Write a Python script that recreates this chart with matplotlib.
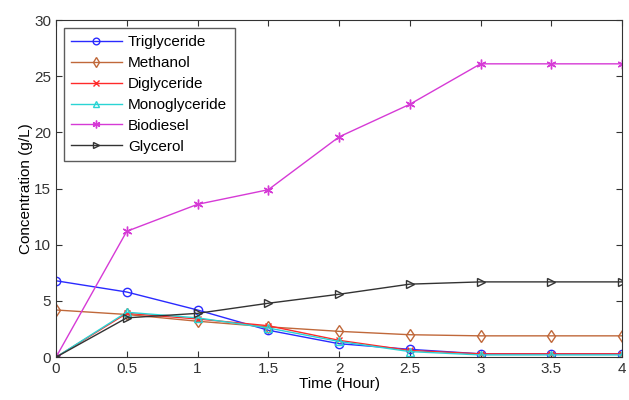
import matplotlib
matplotlib.use('agg')
import matplotlib.pyplot as plt

plt.rcParams['font.family'] = ['Liberation Sans', 'DejaVu Sans']

# time points (hours) and concentrations (g/L)
time = [0, 0.5, 1, 1.5, 2, 2.5, 3, 3.5, 4]
triglyceride = [6.8, 5.8, 4.2, 2.4, 1.2, 0.7, 0.3, 0.3, 0.3]
methanol = [4.2, 3.8, 3.2, 2.7, 2.3, 2.0, 1.9, 1.9, 1.9]
diglyceride = [0, 3.9, 3.4, 2.8, 1.5, 0.6, 0.3, 0.3, 0.3]
monoglyceride = [0, 4.0, 3.5, 2.6, 1.4, 0.5, 0.2, 0.2, 0.2]
biodiesel = [0, 11.2, 13.6, 14.9, 19.6, 22.5, 26.1, 26.1, 26.1]
glycerol = [0, 3.5, 3.9, 4.8, 5.6, 6.5, 6.7, 6.7, 6.7]

fig = plt.figure(figsize=(6.29, 4.0), dpi=100)
ax = fig.add_axes([0.089, 0.107, 0.9, 0.843])

ax.plot(time, triglyceride, color='#2a2aff', marker='o', mfc='none', ms=6, lw=1, label='Triglyceride')
ax.plot(time, methanol, color='#c0683a', marker='d', mfc='none', ms=6, lw=1, label='Methanol')
ax.plot(time, diglyceride, color='#ff2a2a', marker='x', ms=5, lw=1, label='Diglyceride')
ax.plot(time, monoglyceride, color='#2ad4d4', marker='^', mfc='none', ms=6, lw=1, label='Monoglyceride')
ax.plot(time, biodiesel, color='#d63ad6', marker=(6, 2, 0), ms=7, lw=1, label='Biodiesel')
ax.plot(time, glycerol, color='#333333', marker='>', mfc='none', ms=6, lw=1, label='Glycerol')

ax.set_xlim(0, 4)
ax.set_ylim(0, 30)
ax.set_xticks([0, 0.5, 1, 1.5, 2, 2.5, 3, 3.5, 4])
ax.set_xticklabels(['0', '0.5', '1', '1.5', '2', '2.5', '3', '3.5', '4'])
ax.set_yticks([0, 5, 10, 15, 20, 25, 30])
ax.tick_params(direction='in', top=True, right=True, labelsize=11, length=4, colors='#333333')
for s in ax.spines.values():
    s.set_color('#333333')
ax.set_xlabel('Time (Hour)', fontsize=11, labelpad=1)
ax.set_ylabel('Concentration (g/L)', fontsize=11, labelpad=1)

leg = ax.legend(loc='upper left', fontsize=11, fancybox=False, edgecolor='#333333',
                borderaxespad=0.5, handlelength=3.3, handletextpad=0.4,
                labelspacing=0.45, borderpad=0.5, markerscale=0.8)
leg.get_frame().set_linewidth(1)

plt.savefig('out.png', dpi=100)
plt.close()
